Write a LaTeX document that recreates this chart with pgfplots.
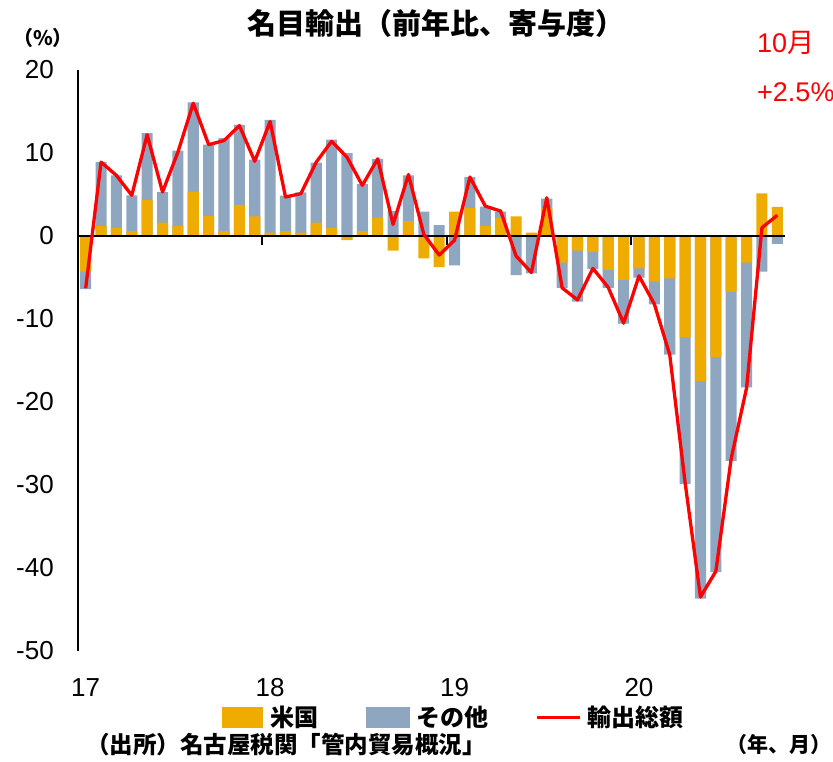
\documentclass[border=0pt]{standalone}
\usepackage{fontspec}
\setmainfont{Liberation Sans}
\newfontfamily\jp{Noto Sans CJK JP}
\usepackage{pgfplots}
\usepackage{pgfplotstable}
\pgfplotsset{compat=1.18}
\definecolor{usor}{RGB}{240,171,0}
\definecolor{othbl}{RGB}{143,166,192}
\definecolor{linered}{RGB}{255,0,0}
% m = month index (0 = Jan 2017), us = 米国, oth = その他, tot = 輸出総額
\pgfplotstableread{
m us oth tot
0 -4.3 -2.1 -6.3
1 1.2 7.7 8.9
2 1.0 6.3 7.3
3 0.6 4.3 4.9
4 4.35 8.05 12.2
5 1.6 3.7 5.3
6 1.2 9.1 10.1
7 5.35 10.75 16.0
8 2.4 8.6 11.0
9 0.6 11.2 11.5
10 3.75 9.65 13.3
11 2.35 6.85 9.0
12 0.4 13.6 13.8
13 0.6 4.25 4.7
14 0.4 4.85 5.1
15 1.6 7.25 8.9
16 1.0 10.6 11.4
17 -0.5 10.0 9.5
18 0.6 5.65 6.1
19 2.2 7.05 9.3
20 -1.75 3.0 1.4
21 1.8 5.5 7.4
22 -2.7 2.95 0.2
23 -3.75 1.3 -2.3
24 2.95 -3.55 -0.5
25 3.35 3.75 7.1
26 1.2 2.35 3.6
27 2.2 0.75 3.0
28 2.35 -4.7 -2.4
29 0.4 -4.5 -4.4
30 3.35 1.15 4.6
31 -3.2 -3.05 -6.25
32 -1.75 -6.15 -7.7
33 -1.95 -2.05 -3.9
34 -4.1 -2.15 -6.2
35 -5.3 -5.25 -10.5
36 -3.9 -1.1 -4.8
37 -5.5 -2.75 -8.2
38 -5.1 -9.2 -14.3
39 -12.2 -17.7 -29.7
40 -17.5 -26.2 -43.5
41 -14.6 -25.9 -40.4
42 -6.7 -20.4 -26.8
43 -3.2 -15.05 -18.3
44 5.15 -4.3 1.0
45 3.5 -0.95 2.5
}\data
\begin{document}
\begin{tikzpicture}
\path[use as bounding box] (0bp,0bp) rectangle (833bp,762bp);
\begin{axis}[
  at={(78bp,111bp)}, anchor=south west,
  scale only axis, width=707bp, height=581bp,
  xmin=-0.5, xmax=45.5, ymin=-50, ymax=20,
  axis y line=left, axis x line=bottom,
  axis line style={-},
  x axis line style={draw=none},
  y axis line style={black, line width=1.2bp},
  xtick={0,12,24,36}, xticklabels={17,18,19,20},
  ytick={-50,-40,-30,-20,-10,0,10,20},
  major tick length=0pt,
  xtick style={draw=none}, ytick style={draw=none},
  /pgf/number format/assume math mode=true,
  ticklabel style={font=\fontsize{26bp}{26bp}\selectfont, inner sep=0pt},
  yticklabel style={anchor=east, xshift=-24bp},
  xticklabel style={anchor=north, yshift=-27bp},
  legend style={at={(0.204,-0.114)}, anchor=west, draw=none, fill=none,
    font=\jp\bfseries\fontsize{24bp}{24bp}\selectfont, inner sep=0pt,
    /tikz/every even column/.append style={column sep=45bp}},
  legend columns=3,
]
\addlegendimage{legend image code/.code={\fill[usor] (0bp,-10bp) rectangle (40bp,10bp); \path (46bp,0bp);}}
\addlegendentry{米国}
\addlegendimage{legend image code/.code={\fill[othbl] (0bp,-10bp) rectangle (43bp,10bp); \path (48bp,0bp);}}
\addlegendentry{その他}
\addlegendimage{legend image code/.code={\draw[linered, line width=3bp] (0bp,0bp) -- (43bp,0bp); \path (49bp,0bp);}}
\addlegendentry{輸出総額}
% その他: stacked beyond 米国 when both have the same sign, else from zero
\addplot[ybar, bar width=0.72, bar shift=0pt, fill=othbl, draw=none, forget plot]
  table[x=m, y expr={((\thisrow{us})*(\thisrow{oth})>0) ? (\thisrow{us})+(\thisrow{oth}) : (\thisrow{oth})}] {\data};
\addplot[ybar, bar width=0.72, bar shift=0pt, fill=usor, draw=none, forget plot]
  table[x=m, y=us] {\data};
\addplot[black, line width=2.5bp, forget plot] coordinates {(-0.5,0) (45.5,0)};
\draw[black, line width=2bp] (axis cs:-0.5,0) -- ([yshift=-9bp]axis cs:-0.5,0);
\draw[black, line width=2bp] (axis cs:11.5,0) -- ([yshift=-9bp]axis cs:11.5,0);
\draw[black, line width=2bp] (axis cs:23.5,0) -- ([yshift=-9bp]axis cs:23.5,0);
\draw[black, line width=2bp] (axis cs:35.5,0) -- ([yshift=-9bp]axis cs:35.5,0);
\addplot[linered, line width=3.3bp, line join=round, forget plot] table[x=m, y=tot] {\data};
\end{axis}
\node[font=\jp\bfseries\fontsize{29bp}{29bp}\selectfont, inner sep=0pt] at (436bp,739bp) {名目輸出（前年比、寄与度）};
\node[font=\jp\bfseries\fontsize{20bp}{20bp}\selectfont, inner sep=0pt] at (43bp,724bp) {（\%）};
\node[font=\jp\fontsize{27bp}{27bp}\selectfont, text=linered, inner sep=0pt, anchor=west] at (757bp,719bp) {{\rmfamily 10}月};
\node[font=\fontsize{27bp}{27bp}\selectfont, text=linered, inner sep=0pt, anchor=west] at (757bp,670bp) {+2.5\%};
\node[font=\jp\bfseries\fontsize{23.5bp}{23.5bp}\selectfont, inner sep=0pt, anchor=west] at (86bp,17bp) {（出所）名古屋税関「管内貿易概況」};
\node[font=\jp\bfseries\fontsize{21bp}{21bp}\selectfont, inner sep=0pt, anchor=east] at (832bp,17bp) {（年、月）};
\end{tikzpicture}
\end{document}
